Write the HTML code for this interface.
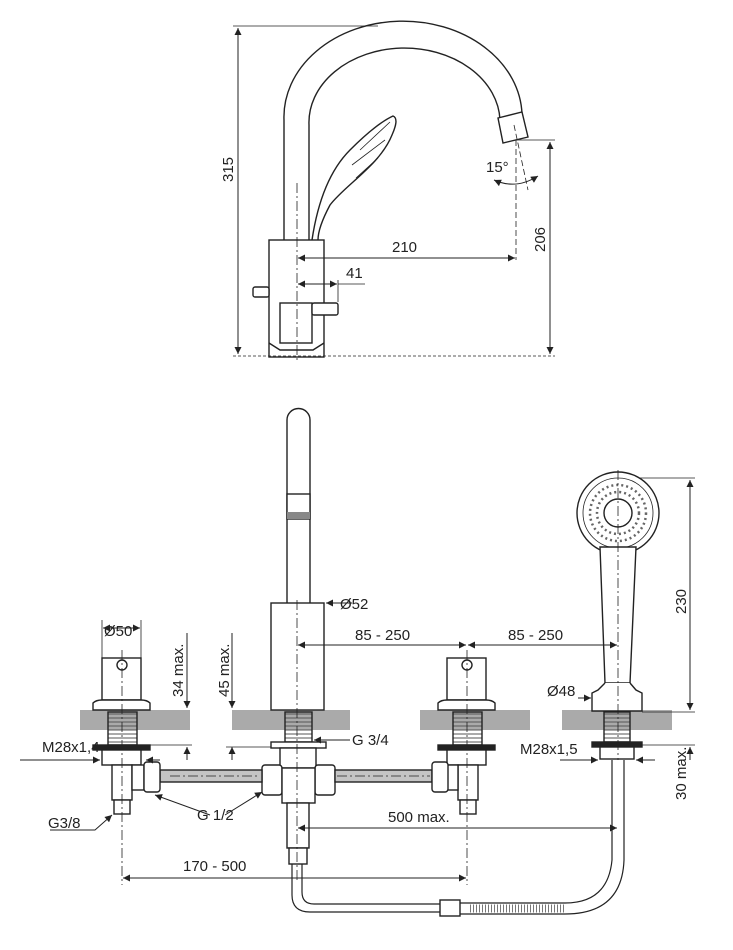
<!DOCTYPE html>
<html><head><meta charset="utf-8"><style>
html,body{margin:0;padding:0;background:#fff;}
svg{display:block;}
text{font-family:"Liberation Sans",sans-serif;font-size:15px;fill:#222;}
</style></head><body>
<svg width="733" height="950" viewBox="0 0 733 950" xmlns="http://www.w3.org/2000/svg">
<defs>
<marker id="a" viewBox="0 0 10 10" refX="10" refY="5" markerWidth="9" markerHeight="7" orient="auto-start-reverse" markerUnits="userSpaceOnUse"><path d="M0,0L10,5L0,10z" fill="#222"/></marker>
<pattern id="th" width="6" height="4" patternUnits="userSpaceOnUse"><line x1="0" y1="2" x2="6" y2="2" stroke="#555" stroke-width="1"/></pattern>
</defs>
<g stroke="#222" fill="none" stroke-width="1.4">
<!-- TOP FAUCET -->
<path d="M284,240 V120 A118,95 0 0 1 522,114"/>
<path d="M309,240 V125 A95,74 0 0 1 500,120"/>
<path d="M498,118 L522,112 L528,137 L503,143 Z" fill="#fff"/>
<path d="M312,240 C318,200 330,170 350,150 C365,135 380,122 393,116 C398,118 396,126 392,135 C380,165 345,185 330,205 C322,220 318,232 318,240" fill="#fff"/>
<path d="M360,150 L390,122 M352,165 L385,140 M356,178 L378,158" stroke-width="0.8"/>
<rect x="269" y="240" width="55" height="117" fill="#fff"/>
<path d="M269,343 L280,350 L313,350 L324,343"/>
<rect x="253" y="287" width="16" height="10" rx="2" fill="#fff"/>
<rect x="280" y="303" width="32" height="40" fill="#fff"/>
<rect x="312" y="303" width="26" height="12" rx="2" fill="#fff"/>
<line x1="297" y1="183" x2="297" y2="362" stroke-width="0.8" stroke-dasharray="10,3,2,3"/>
<line x1="514" y1="125" x2="528" y2="190" stroke-width="0.8" stroke-dasharray="6,3"/>
<line x1="516" y1="140" x2="516" y2="260" stroke-width="0.8" stroke-dasharray="6,3"/>
<path d="M494,180 Q516,190 538,176" stroke-width="1" marker-start="url(#a)" marker-end="url(#a)"/>
<!-- dims top -->
<line x1="233" y1="26" x2="378" y2="26" stroke-width="0.8"/>
<line x1="233" y1="356" x2="555" y2="356" stroke-width="0.8" stroke-dasharray="3,2"/>
<line x1="238" y1="28" x2="238" y2="354" stroke-width="1" marker-start="url(#a)" marker-end="url(#a)"/>
<line x1="516" y1="140" x2="555" y2="140" stroke-width="0.8"/>
<line x1="550" y1="142" x2="550" y2="354" stroke-width="1" marker-start="url(#a)" marker-end="url(#a)"/>
<line x1="298" y1="258" x2="515" y2="258" stroke-width="1" marker-start="url(#a)" marker-end="url(#a)"/>
<line x1="298" y1="284" x2="337" y2="284" stroke-width="1" marker-start="url(#a)" marker-end="url(#a)"/>
<line x1="338" y1="280" x2="338" y2="302" stroke-width="0.8"/>
<line x1="338" y1="284" x2="365" y2="284" stroke-width="0.8"/>

<!-- BOTTOM -->
<g fill="#aaa" stroke="none">
<rect x="80" y="710" width="110" height="20"/><rect x="232" y="710" width="118" height="20"/>
<rect x="420" y="710" width="110" height="20"/><rect x="562" y="710" width="110" height="20"/>
</g>
<path d="M287,603 V420 A11.5,11.5 0 0 1 310,420 V603" fill="#fff"/>
<rect x="287" y="494" width="23" height="25" fill="#fff"/>
<rect x="287" y="512" width="23" height="7" fill="#888" stroke="none"/>
<rect x="271" y="603" width="53" height="107" fill="#fff"/>
<rect x="285" y="712" width="27" height="30" fill="url(#th)"/>
<rect x="271" y="742" width="55" height="6" fill="#fff"/>
<rect x="280" y="748" width="36" height="20" fill="#fff"/>
<rect x="262" y="765" width="20" height="30" rx="3" fill="#fff"/>
<rect x="315" y="765" width="20" height="30" rx="3" fill="#fff"/>
<rect x="282" y="768" width="33" height="35" fill="#fff"/>
<rect x="287" y="803" width="22" height="45" fill="#fff"/>
<rect x="289" y="848" width="18" height="16" fill="#fff"/>
<line x1="297" y1="600" x2="297" y2="880" stroke-width="0.8" stroke-dasharray="10,3,2,3"/>
<rect x="160" y="770" width="102" height="12" fill="#c4c4c4"/>
<rect x="335" y="770" width="97" height="12" fill="#c4c4c4"/>
<line x1="170" y1="776" x2="260" y2="776" stroke-width="0.8" stroke-dasharray="10,3,2,3"/>
<line x1="337" y1="776" x2="430" y2="776" stroke-width="0.8" stroke-dasharray="10,3,2,3"/>
<!-- left valve -->
<rect x="102" y="658" width="39" height="42" fill="#fff"/>
<circle cx="122" cy="665" r="5"/>
<path d="M93,710 V703 Q96,700 102,700 H141 Q147,700 150,703 V710 Z" fill="#fff"/>
<rect x="108" y="712" width="29" height="33" fill="url(#th)"/>
<rect x="93" y="745" width="57" height="5" fill="#222"/>
<rect x="102" y="750" width="39" height="15" fill="#fff"/>
<rect x="112" y="765" width="20" height="35" fill="#fff"/>
<rect x="132" y="765" width="12" height="25" fill="#fff"/>
<rect x="144" y="762" width="16" height="30" rx="3" fill="#fff"/>
<rect x="114" y="800" width="16" height="14" fill="#fff"/>
<line x1="122" y1="650" x2="122" y2="885" stroke-width="0.8" stroke-dasharray="10,3,2,3"/>
<!-- right valve -->
<rect x="447" y="658" width="39" height="42" fill="#fff"/>
<circle cx="467" cy="665" r="5"/>
<path d="M438,710 V703 Q441,700 447,700 H486 Q492,700 495,703 V710 Z" fill="#fff"/>
<rect x="453" y="712" width="29" height="33" fill="url(#th)"/>
<rect x="438" y="745" width="57" height="5" fill="#222"/>
<rect x="447" y="750" width="39" height="15" fill="#fff"/>
<rect x="458" y="765" width="20" height="35" fill="#fff"/>
<rect x="446" y="765" width="12" height="25" fill="#fff"/>
<rect x="432" y="762" width="16" height="30" rx="3" fill="#fff"/>
<rect x="460" y="800" width="16" height="14" fill="#fff"/>
<line x1="467" y1="650" x2="467" y2="885" stroke-width="0.8" stroke-dasharray="10,3,2,3"/>
<!-- hand shower -->
<circle cx="618" cy="513" r="41" fill="#fff"/>
<circle cx="618" cy="513" r="35" stroke-width="0.8"/>
<circle cx="618" cy="513" r="14"/>
<g stroke-width="2.5" stroke="#666" stroke-dasharray="2,3"><circle cx="618" cy="513" r="28"/><circle cx="618" cy="513" r="21"/></g>
<path d="M600,547 L636,547 L630,683 L605,683 Z" fill="#fff"/>
<path d="M605,683 L598,690 L592,693 V711 H642 V693 L636,690 L630,683" fill="#fff"/>
<rect x="604" y="712" width="26" height="30" fill="url(#th)"/>
<rect x="592" y="742" width="50" height="5" fill="#222"/>
<rect x="600" y="747" width="34" height="12" fill="#fff"/>
<line x1="618" y1="470" x2="618" y2="760" stroke-width="0.8" stroke-dasharray="10,3,2,3"/>
<!-- lower hose -->
<path d="M292,864 V895 Q292,912 310,912 H440" stroke-width="1.2"/>
<path d="M302,864 V892 Q302,904 314,904 H440" stroke-width="1.2"/>
<rect x="440" y="900" width="20" height="16" fill="#fff"/>
<path d="M460,903 H565 Q608,903 612,860 V760 M460,914 H565 Q622,914 624,860 V760" stroke-width="1.2"/>
<path d="M470,908.5 H565" stroke="#777" stroke-width="8" stroke-dasharray="1,2"/>
<!-- dims bottom -->
<line x1="102" y1="620" x2="102" y2="658" stroke-width="0.8"/><line x1="141" y1="620" x2="141" y2="658" stroke-width="0.8"/>
<line x1="103" y1="628" x2="140" y2="628" stroke-width="1" marker-start="url(#a)" marker-end="url(#a)"/>
<line x1="187" y1="633" x2="187" y2="708" stroke-width="1" marker-end="url(#a)"/>
<line x1="187" y1="760" x2="187" y2="747" stroke-width="1" marker-end="url(#a)"/>
<line x1="150" y1="745" x2="192" y2="745" stroke-width="0.8"/>
<line x1="232" y1="633" x2="232" y2="708" stroke-width="1" marker-end="url(#a)"/>
<line x1="232" y1="760" x2="232" y2="747" stroke-width="1" marker-end="url(#a)"/>
<line x1="226" y1="747" x2="271" y2="747" stroke-width="0.8"/>
<line x1="352" y1="603" x2="326" y2="603" stroke-width="1" marker-end="url(#a)"/>
<line x1="298" y1="645" x2="466" y2="645" stroke-width="1" marker-start="url(#a)" marker-end="url(#a)"/>
<line x1="468" y1="645" x2="617" y2="645" stroke-width="1" marker-start="url(#a)" marker-end="url(#a)"/>
<line x1="640" y1="478" x2="695" y2="478" stroke-width="0.8"/>
<line x1="642" y1="712" x2="695" y2="712" stroke-width="0.8"/>
<line x1="634" y1="745" x2="695" y2="745" stroke-width="0.8"/>
<line x1="690" y1="480" x2="690" y2="710" stroke-width="1" marker-start="url(#a)" marker-end="url(#a)"/>
<line x1="690" y1="760" x2="690" y2="747" stroke-width="1" marker-end="url(#a)"/>
<line x1="578" y1="698" x2="591" y2="698" stroke-width="1" marker-end="url(#a)"/>
<line x1="20" y1="760" x2="100" y2="760" stroke-width="1" marker-end="url(#a)"/>
<line x1="160" y1="760" x2="146" y2="760" stroke-width="1" marker-end="url(#a)"/>
<line x1="560" y1="760" x2="598" y2="760" stroke-width="1" marker-end="url(#a)"/>
<line x1="655" y1="760" x2="636" y2="760" stroke-width="1" marker-end="url(#a)"/>
<line x1="350" y1="740" x2="314" y2="740" stroke-width="1" marker-end="url(#a)"/>
<path d="M210,815 L155,795" stroke-width="1" marker-end="url(#a)"/>
<path d="M225,815 L262,792" stroke-width="1" marker-end="url(#a)"/>
<path d="M50,830 H95 L112,815" stroke-width="1" marker-end="url(#a)"/>
<line x1="298" y1="828" x2="617" y2="828" stroke-width="1" marker-start="url(#a)" marker-end="url(#a)"/>
<line x1="123" y1="878" x2="466" y2="878" stroke-width="1" marker-start="url(#a)" marker-end="url(#a)"/>
</g>
<text x="0" y="0" transform="translate(233,182) rotate(-90)">315</text>
<text x="0" y="0" transform="translate(545,252) rotate(-90)">206</text>
<text x="392" y="252">210</text>
<text x="346" y="278">41</text>
<text x="486" y="172">15°</text>
<text x="104" y="636">Ø50</text>
<text x="340" y="609">Ø52</text>
<text x="0" y="0" transform="translate(183,697) rotate(-90)">34 max.</text>
<text x="0" y="0" transform="translate(229,697) rotate(-90)">45 max.</text>
<text x="355" y="640">85 - 250</text>
<text x="508" y="640">85 - 250</text>
<text x="0" y="0" transform="translate(686,614) rotate(-90)">230</text>
<text x="0" y="0" transform="translate(686,800) rotate(-90)">30 max.</text>
<text x="547" y="696">Ø48</text>
<text x="42" y="752">M28x1,4</text>
<text x="520" y="754">M28x1,5</text>
<text x="352" y="745">G 3/4</text>
<text x="197" y="820">G 1/2</text>
<text x="48" y="828">G3/8</text>
<text x="388" y="822">500 max.</text>
<text x="183" y="871">170 - 500</text>
</svg>
</body></html>
